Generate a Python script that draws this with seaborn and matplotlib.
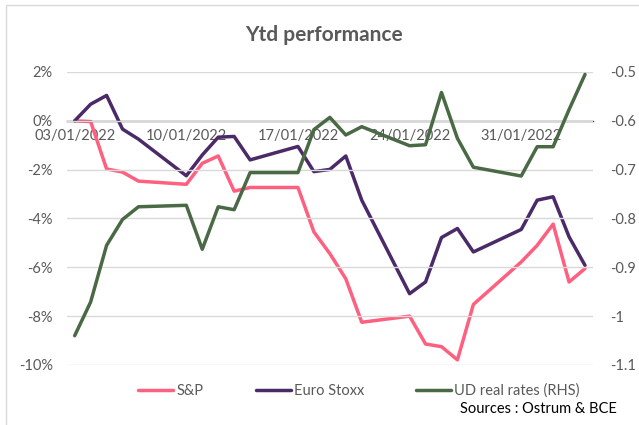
import pandas as pd
import numpy as np
import matplotlib as mpl
mpl.use('Agg')
import matplotlib.pyplot as plt
import matplotlib.dates as mdates
from matplotlib.patches import Rectangle
from matplotlib.lines import Line2D
import seaborn as sns

sns.set_style('white')
plt.rcParams['font.family'] = ['Lato', 'DejaVu Sans']

# donnees (jours ouvres)
dates = ['2022-01-03', '2022-01-04', '2022-01-05', '2022-01-06', '2022-01-07',
         '2022-01-10', '2022-01-11', '2022-01-12', '2022-01-13', '2022-01-14',
         '2022-01-17', '2022-01-18', '2022-01-19', '2022-01-20', '2022-01-21',
         '2022-01-24', '2022-01-25', '2022-01-26', '2022-01-27', '2022-01-28',
         '2022-01-31', '2022-02-01', '2022-02-02', '2022-02-03', '2022-02-04']
sp = [0, -0.03, -1.97, -2.10, -2.47, -2.60, -1.74, -1.44, -2.88, -2.73,
      -2.73, -4.55, -5.44, -6.47, -8.25, -8.00, -9.14, -9.25, -9.79, -7.52,
      -5.78, -5.10, -4.23, -6.60, -6.05]
euro_stoxx = [0, 0.68, 1.04, -0.34, -0.75, -2.25, -1.40, -0.67, -0.64, -1.60,
              -1.05, -2.08, -1.99, -1.44, -3.25, -7.08, -6.60, -4.78, -4.41, -5.37,
              -4.45, -3.25, -3.11, -4.75, -5.92]
real_rates = [-1.04, -0.971, -0.855, -0.802, -0.776, -0.773, -0.863, -0.776, -0.782, -0.706,
              -0.706, -0.618, -0.593, -0.629, -0.612, -0.651, -0.649, -0.542, -0.636, -0.695,
              -0.713, -0.653, -0.653, -0.577, -0.505]
left_ticks = [2, 0, -2, -4, -6, -8, -10]
right_ticks = [-0.5, -0.6, -0.7, -0.8, -0.9, -1.0, -1.1]
right_labels = ['-0.5', '-0.6', '-0.7', '-0.8', '-0.9', '-1', '-1.1']
label_dates = ['2022-01-03', '2022-01-10', '2022-01-17', '2022-01-24', '2022-01-31']

c_sp = '#FF607F'
c_es = '#4B2A68'
c_rr = '#4A6A45'
gris = '#595959'

# Excel place les points au milieu du jour
df = pd.DataFrame({'date': pd.to_datetime(dates) + pd.Timedelta(hours=12),
                   'sp': sp, 'es': euro_stoxx, 'rr': real_rates})

fig = plt.figure(figsize=(6.39, 4.25), dpi=100)
ax = fig.add_axes([0.1044, 0.1412, 0.8236, 0.6894])
ax2 = ax.twinx()

sns.lineplot(data=df, x='date', y='sp', ax=ax, color=c_sp, lw=2.5, legend=False)
sns.lineplot(data=df, x='date', y='es', ax=ax, color=c_es, lw=2.5, legend=False)
sns.lineplot(data=df, x='date', y='rr', ax=ax2, color=c_rr, lw=2.5, legend=False)

ax.set_ylim(-10, 2)
ax2.set_ylim(-1.1, -0.5)
ax.set_xlim(pd.Timestamp('2022-01-03'), pd.Timestamp('2022-02-05'))

ax.set_yticks(left_ticks)
ax.set_yticklabels([f'{v}%' for v in left_ticks])
ax2.set_yticks(right_ticks)
ax2.set_yticklabels(right_labels)
for t in right_ticks:
    ax2.axhline(t, color='#D9D9D9', lw=1, zorder=0)

# ticks aux bornes des jours, libelles au milieu
ld = pd.to_datetime(label_dates)
ax.set_xticks(ld)
ax.set_xticklabels([])
ax.set_xticks(ld + pd.Timedelta(hours=12), minor=True)
ax.set_xticklabels([d.strftime('%d/%m/%Y') for d in ld], minor=True)
ax.tick_params(axis='x', which='major', direction='out', length=5, width=1, color='#404040')
ax.tick_params(axis='x', which='minor', length=0, pad=6, labelsize=10.5, labelcolor=gris)
ax.tick_params(axis='y', length=0, pad=10, labelsize=10.5, labelcolor=gris)
ax2.tick_params(axis='y', length=0, pad=12, labelsize=10.5, labelcolor=gris)

for a in (ax, ax2):
    for s in ('top', 'left', 'right'):
        a.spines[s].set_visible(False)
ax2.spines['bottom'].set_visible(False)
ax.spines['bottom'].set_position(('data', 0))
ax.spines['bottom'].set_color('#404040')
ax.spines['bottom'].set_linewidth(1)
ax.set_xlabel('')
ax.set_ylabel('')
ax2.set_ylabel('')
ax.patch.set_alpha(0)

fig.text(0.507, 0.917, 'Ytd performance', ha='center', va='center',
         fontsize=15, fontweight='bold', color=gris)

handles = [Line2D([], [], color=c_sp, lw=2.5),
           Line2D([], [], color=c_es, lw=2.5),
           Line2D([], [], color=c_rr, lw=2.5)]
fig.legend(handles, ['S&P', 'Euro Stoxx', 'UD real rates (RHS)'], loc='center',
           bbox_to_anchor=(0.562, 0.08), ncol=3, frameon=False, fontsize=10.5,
           handlelength=2.4, handletextpad=0.2, columnspacing=3.6, labelcolor=gris)
fig.text(0.966, 0.037, 'Sources : Ostrum & BCE', ha='right', va='center',
         fontsize=10.5, color='black')

fig.patches.append(Rectangle((5.5 / 639, -0.1), 1.2, 1 - 5.5 / 425 + 0.1,
                             transform=fig.transFigure, fill=False,
                             edgecolor='#D9D9D9', lw=1))

fig.savefig('out.png', dpi=100)
